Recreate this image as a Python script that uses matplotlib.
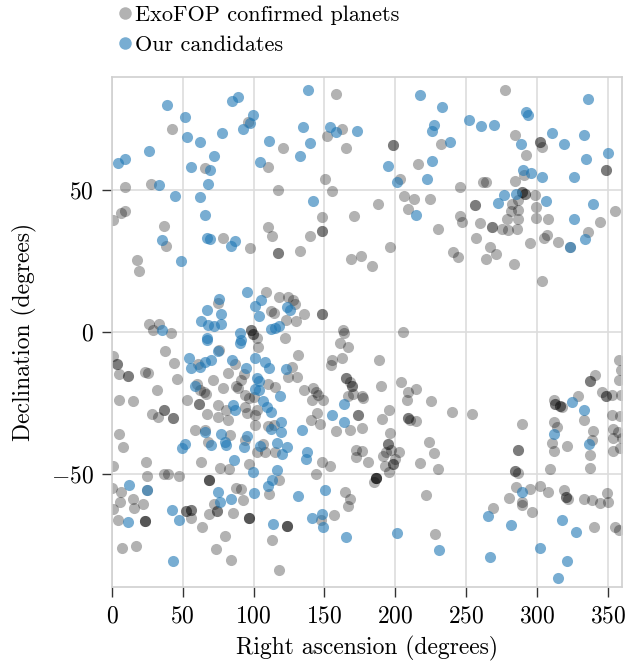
import matplotlib
matplotlib.use("Agg")
import matplotlib.pyplot as plt
from matplotlib.lines import Line2D

plt.rcParams['font.family'] = ['cmr10', 'DejaVu Serif']
plt.rcParams['mathtext.fontset'] = 'cm'
plt.rcParams['axes.formatter.use_mathtext'] = True

# ExoFOP confirmed planets (RA, Dec in degrees); repeated entries = multi-planet systems
confirmed_ra = [
    42.4, 96.0, 120.5, 110.1, 65.4, 9.4, 27.8, 117.2, 9.0, 6.6, 0.5, 36.7, 110.1, 113.0, 38.4, 78.1, 97.4, 117.2, 117.2,
    157.9, 162.1, 151.8, 164.9, 232.2, 198.3, 198.3, 216.2, 203.5, 150.3, 155.5, 245.9, 205.9, 213.4, 224.7, 209.2,
    188.0, 148.5, 171.1, 148.0, 148.0, 140.0, 132.9, 196.0, 229.9, 245.4, 246.8, 240.5,
    277.4, 284.5, 302.3, 302.3, 303.7, 348.5, 348.5, 292.5, 290.6, 284.5, 261.9, 264.2, 289.2, 289.2, 291.5, 291.5,
    298.6, 286.8, 282.1, 355.0, 256.2, 256.2, 281.6, 286.8, 299.5, 278.8, 286.3, 299.5, 308.0, 344.2, 260.0, 268.0,
    268.0, 275.0, 279.3, 285.9, 336.2, 307.0, 305.2, 256.7, 295.0, 314.6, 267.0, 323.0, 271.3,
    17.4, 18.8, 168.7, 175.8, 183.3, 244.0, 264.2, 283.5, 303.3,
    108.7, 117.7, 112.5, 114.4, 121.9, 98.4, 98.4, 99.8, 99.8, 102.6, 103.1, 74.8, 26.4, 28.7, 33.0, 41.9, 0.5, 3.8,
    3.8, 4.7, 11.3, 11.3, 23.5, 25.4, 37.2, 43.8, 45.7, 31.5, 5.2, 15.1, 75.8, 60.7, 86.6, 81.9, 93.2, 91.3, 71.5,
    78.6, 87.5, 89.0, 59.8, 62.1, 65.0, 100.2, 94.1, 97.0, 110.1, 114.8, 52.7, 61.7, 61.7, 66.4, 74.8, 67.3, 80.5,
    102.1, 100.7, 94.1, 95.5, 43.3, 43.3, 36.7, 36.7, 28.2, 32.5, 74.8, 81.9,
    124.0, 127.8, 129.2, 135.3, 130.1, 122.6, 148.5, 148.5, 163.1, 163.5, 160.7, 166.8, 205.4, 131.5, 155.1, 154.6,
    162.1, 188.5, 126.8, 130.6, 124.0, 165.4, 165.4, 167.8, 169.6, 169.6, 189.9, 204.0, 209.2, 214.3, 208.2, 141.9,
    144.2, 145.2, 140.9, 148.9, 135.3, 166.8, 170.1, 176.2, 177.2, 225.2, 240.0, 195.5, 173.9, 173.9, 190.8, 209.2,
    209.2, 210.1, 214.8, 144.7, 140.5, 147.1,
    253.9, 289.6, 311.7, 312.7, 312.7, 316.0, 316.0, 317.9, 329.2, 311.7, 332.9, 337.6, 337.6, 340.9, 346.1, 348.5,
    348.5, 352.7, 359.3, 357.9, 359.3, 357.9, 352.7, 358.8,
    5.2, 7.5, 0.9, 24.0, 24.5, 0.0, 6.1, 5.7, 0.5, 4.2, 24.5, 14.6, 15.5, 22.1, 23.5, 23.5, 23.5, 7.1, 17.0, 36.7,
    39.5, 47.1, 52.2, 52.2, 55.5, 55.5, 56.0, 58.4, 65.4, 67.8, 83.3, 94.1, 101.2, 110.1, 114.4, 102.1, 108.2, 114.8,
    106.8, 62.6, 76.2, 82.4, 96.5, 117.7, 68.2, 68.2, 68.2, 87.5, 90.8, 92.2, 72.0, 110.6, 73.9, 73.9, 68.7, 85.1,
    97.0, 97.0, 97.0, 123.3, 123.3, 123.3, 63.5, 79.5, 73.4, 84.2, 113.0, 118.1,
    158.3, 168.2, 176.7, 196.0, 223.8, 227.5, 230.3, 217.6, 148.5, 154.1, 172.0, 176.2, 172.0, 180.5, 191.3, 193.6,
    194.6, 194.6, 196.9, 202.6, 199.8, 198.3, 198.3, 195.5, 192.7, 186.6, 186.6, 186.6, 186.6, 185.2, 143.8, 164.5,
    167.8, 166.8, 156.9, 147.5, 221.9, 227.8,
    314.1, 339.5, 310.8, 311.7, 321.2, 338.6, 337.6, 337.6, 353.6, 353.6, 357.4, 359.8, 353.6, 358.3, 286.3, 286.3,
    309.4, 284.5, 284.5, 286.8, 285.4, 289.2, 289.6, 295.3, 302.3, 307.5, 280.2, 268.9, 296.7, 318.8, 320.2, 320.2,
    322.1, 332.9, 338.6, 344.7, 350.3, 349.4, 340.5, 355.0, 357.9,
]
confirmed_dec = [
    71.8, 74.1, 65.0, 58.2, 57.9, 51.3, 52.2, 50.2, 42.6, 42.1, 39.4, 37.4, 37.1, 33.9, 30.4, 33.2, 29.7, 27.8, 27.8,
    84.0, 71.8, 69.2, 65.0, 66.4, 65.9, 65.9, 59.3, 53.9, 54.1, 49.9, 51.1, 48.0, 47.1, 46.8, 43.5,
    45.0, 40.5, 41.0, 35.8, 35.8, 33.9, 28.5, 30.0, 36.2, 41.0, 38.8, 28.3,
    85.4, 69.4, 67.1, 67.1, 65.4, 57.2, 57.2, 62.6, 55.5, 53.4, 52.9, 52.9, 49.4, 49.4, 48.7, 48.7,
    48.2, 46.5, 45.3, 42.6, 44.7, 44.7, 42.6, 42.9, 44.0, 40.0, 39.8, 40.2, 40.0, 38.8, 38.3, 37.1,
    37.1, 36.5, 35.9, 36.5, 35.3, 34.1, 33.0, 33.2, 31.5, 31.8, 29.9, 30.1, 27.5,
    25.5, 21.5, 25.8, 26.7, 23.2, 26.5, 25.8, 24.1, 18.0,
    14.0, 12.4, 7.4, 6.7, -2.0, 0.6, 0.6, -0.6, -0.6, -2.0, -5.3, 10.2, 2.7, 0.8, 2.7, -0.4, -8.6, -11.2,
    -11.2, -14.9, -15.4, -15.4, -14.0, -14.5, -6.7, -10.9, -16.6, -20.6, -24.1, -24.3, -6.2, -11.2, -11.2, -14.5, -14.9, -16.8, -17.1,
    -19.9, -19.2, -19.6, -18.2, -20.3, -21.3, -23.0, -22.2, -23.2, -18.2, -19.4, -24.1, -25.3, -25.3, -21.8, -25.8, -28.8, -27.4,
    -27.6, -29.3, -26.5, -28.6, -30.2, -30.2, -27.4, -27.4, -28.8, -30.0, -30.0, -30.9,
    12.4, 11.4, 10.0, 6.2, 3.9, 4.1, 6.2, 6.2, 0.6, -0.4, -3.9, -5.3, -0.1, -8.1, -9.8, -11.6,
    -9.3, -10.0, -12.4, -15.9, -15.9, -16.1, -16.1, -17.8, -19.2, -19.2, -19.2, -17.5, -21.1, -20.1, -23.9, -19.6,
    -21.1, -22.2, -23.9, -24.1, -20.6, -22.7, -21.8, -22.7, -23.4, -24.3, -28.1, -27.6, -29.3, -29.3, -30.7, -30.2,
    -30.2, -31.2, -31.4, -28.6, -31.0, -32.4,
    -28.8, -32.6, -24.1, -25.5, -25.5, -26.0, -26.0, -26.5, -22.5, -31.6, -31.1, -17.3, -17.3, -15.2, -21.3, -22.5,
    -22.5, -22.2, -22.2, -10.0, -13.3, -17.1, -29.3, -29.8,
    -36.1, -40.6, -47.4, -45.8, -50.7, -54.9, -56.3, -59.9, -62.5, -66.2, -55.9, -58.9, -62.0, -60.6, -66.7, -66.7, -66.7, -76.3, -75.4, -50.0,
    -50.0, -50.9, -63.2, -63.2, -62.7, -62.7, -65.5, -34.5, -34.7, -38.9, -36.3, -38.2, -33.0, -33.3, -32.8, -42.5, -42.5, -42.5,
    -39.4, -46.0, -48.1, -48.3, -46.7, -52.1, -52.1, -52.1, -52.1, -54.9, -55.4, -59.4, -60.8, -57.3, -63.2, -63.2, -64.1, -63.9,
    -65.5, -65.5, -65.5, -68.3, -68.3, -68.3, -69.0, -71.9, -76.6, -80.3, -73.5, -83.9,
    -34.9, -34.5, -33.8, -35.6, -38.9, -42.7, -48.3, -46.2, -45.8, -47.2, -41.5, -42.0, -44.1, -46.0, -43.9, -42.5,
    -39.6, -39.6, -41.8, -42.5, -45.0, -46.5, -46.5, -49.5, -47.4, -51.4, -51.4, -51.4, -51.4, -53.0, -50.2, -56.3,
    -58.9, -61.3, -64.6, -66.5, -57.5, -71.4,
    -33.7, -34.9, -39.2, -42.0, -40.1, -38.2, -43.4, -48.1, -34.2, -37.3, -35.4, -37.3, -42.0, -41.0, -41.5, -41.5,
    -48.3, -49.0, -49.0, -49.8, -54.7, -59.9, -61.1, -55.4, -54.2, -56.3, -58.5, -62.0, -63.6, -55.6, -58.2, -58.2,
    -58.9, -58.9, -59.4, -60.3, -59.9, -56.8, -69.0, -69.0, -69.8,
]

# Our candidates (RA, Dec in degrees)
candidate_ra = [
    39.1, 51.8, 53.2, 62.1, 77.7, 84.7, 89.0, 99.8, 97.2, 92.5, 110.6, 26.4, 9.4, 4.3, 72.0, 55.6, 69.0, 67.8, 104.5,
    33.0, 44.3, 62.1, 65.4, 35.3, 66.8, 69.0, 87.1, 83.8,
    138.1, 134.8, 153.6, 157.9, 172.9, 140.0, 132.9, 217.6, 233.2, 227.5, 225.6, 238.8, 226.1, 195.1, 201.2, 222.3,
    141.9, 214.8,
    335.7, 252.0, 260.5, 269.9, 292.0, 293.9, 288.7, 310.8, 318.8, 332.9, 349.9, 334.3, 290.1, 295.7, 303.7, 325.9,
    276.9, 284.9, 272.2, 306.6, 339.5, 326.3, 333.9, 323.0,
    48.5, 95.5, 105.0, 101.2, 103.5, 117.7, 114.8, 112.5, 90.4, 91.3, 90.4, 75.8, 67.3, 76.7, 62.6, 67.8, 72.0, 76.7,
    66.8, 67.3, 35.3, 54.1, 56.0, 62.1, 65.4, 70.1, 74.8, 84.7, 94.6, 100.7, 107.8, 110.6, 122.8, 102.6, 103.5, 58.8,
    101.2, 103.5, 118.6, 85.7, 86.6, 106.4, 109.2, 112.5, 119.5,
    123.5, 125.4, 163.5, 155.1, 164.0,
    11.8, 24.5, 11.3, 42.4, 47.1, 42.8, 65.4, 51.8, 49.4, 70.1, 77.2, 79.5, 80.5, 95.5, 93.2, 112.0, 119.1, 116.7,
    120.0, 123.3, 104.5, 86.1, 99.8, 116.2, 113.0, 110.1, 74.8, 76.2, 84.2, 100.2, 113.4,
    134.3, 137.6, 137.2, 150.3, 131.5, 148.5, 140.9, 148.9, 165.4, 201.2, 230.8,
    324.9, 332.9,
    312.2, 336.7, 289.2, 265.6, 281.6, 317.9, 327.3, 302.3, 267.0, 321.2, 314.6,
]
candidate_dec = [
    80.2, 75.8, 68.7, 67.1, 70.4, 81.4, 82.8, 76.7, 73.9, 71.5, 67.3, 64.0, 61.2, 59.8, 62.1, 58.4, 57.0, 52.2, 60.0,
    51.8, 48.0, 47.5, 41.2, 32.5, 33.2, 32.7, 32.2, 30.4,
    85.4, 72.2, 72.2, 70.6, 71.1, 66.8, 62.1, 83.5, 79.3, 73.0, 71.1, 67.1, 60.5, 58.6, 53.0, 53.9,
    46.1, 41.4,
    82.3, 74.8, 72.7, 72.9, 77.6, 76.7, 66.3, 70.3, 66.3, 69.6, 63.3, 61.2, 57.2, 56.2, 54.8, 54.6,
    48.2, 48.8, 45.6, 46.1, 45.2, 39.8, 32.7, 30.1,
    25.1, 14.0, 11.2, 9.1, 5.5, 2.0, 1.5, 1.0, -0.3, -2.9, -3.9, 11.6, 7.6, 6.2, 3.9, 2.4, 2.0, 2.7,
    -2.0, -2.9, 0.6, -9.1, -12.6, -12.4, -10.7, -9.8, -6.7, -9.8, -12.6, -9.1, -10.7, -12.6, -13.1, -16.3, -17.3, -19.0,
    -20.1, -20.6, -22.5, -25.8, -27.6, -24.4, -26.5, -28.1, -31.9,
    8.8, 7.6, -25.5, -29.3, -31.9,
    -54.0, -55.9, -66.9, -62.7, -66.2, -81.0, -35.2, -39.6, -40.8, -39.9, -36.1, -38.9, -39.9, -36.8, -40.6, -34.2, -35.4, -39.2,
    -42.9, -40.6, -40.1, -45.3, -49.5, -48.8, -52.3, -54.2, -56.6, -59.9, -58.9, -56.8, -67.9,
    -34.7, -42.5, -44.8, -55.6, -58.0, -64.1, -65.5, -68.8, -72.3, -70.9, -77.0,
    -24.8, -27.4,
    -35.9, -39.6, -56.3, -65.0, -68.1, -66.2, -70.5, -76.1, -79.4, -80.8, -86.7,
]

x_ticks = [0, 50, 100, 150, 200, 250, 300, 350]
y_ticks = [-50, 0, 50]

fig = plt.figure(figsize=(6.28, 6.62), dpi=100)
ax = fig.add_axes([0.1783, 0.1133, 0.8121, 0.7704])

gray_c = 'black'
blue_c = '#1f77b4'
ax.scatter(confirmed_ra, confirmed_dec, s=64, color=gray_c, alpha=0.3, linewidths=0, zorder=2)
ax.scatter(candidate_ra, candidate_dec, s=64, color=blue_c, alpha=0.6, linewidths=0, zorder=3)

ax.set_xlim(0, 360)
ax.set_ylim(-90, 90)
ax.set_xticks(x_ticks)
ax.set_yticks(y_ticks)
ax.grid(True, color='#dddddd', linewidth=1.2, zorder=0)
ax.set_axisbelow(True)
for sp in ax.spines.values():
    sp.set_color('#d0d0d0')
    sp.set_linewidth(1.2)
ax.tick_params(axis='both', which='major', length=7, width=1.0, color='#333333',
               labelsize=17, pad=6, direction='out')
ax.set_xlabel('Right ascension (degrees)', fontsize=17, labelpad=6)
ax.set_ylabel('Declination (degrees)', fontsize=17, labelpad=10)

handles = [
    Line2D([], [], marker='o', linestyle='none', markersize=9, markeredgewidth=0,
           color=gray_c, alpha=0.3, label='ExoFOP confirmed planets'),
    Line2D([], [], marker='o', linestyle='none', markersize=9, markeredgewidth=0,
           color=blue_c, alpha=0.6, label='Our candidates'),
]
fig.legend(handles=handles, loc='upper left', bbox_to_anchor=(0.163, 1.015), frameon=False,
           fontsize=16, handlelength=0.6, handletextpad=0.15, labelspacing=0.45, borderpad=0.2)

fig.savefig('out.png', dpi=100)
